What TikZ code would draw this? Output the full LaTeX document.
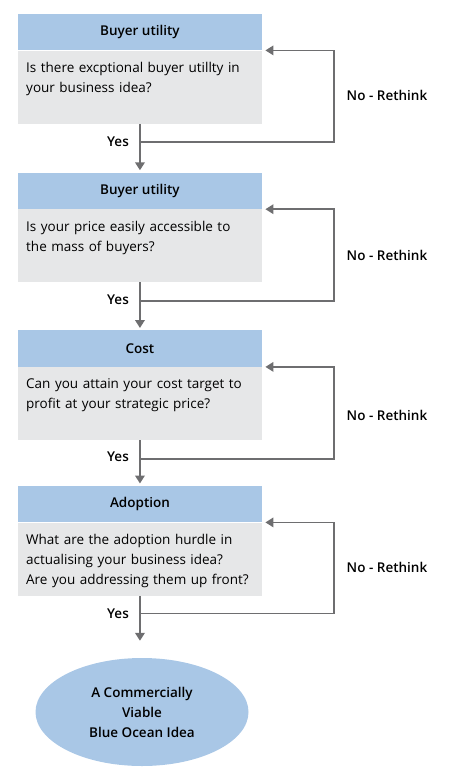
\documentclass[tikz,border=0pt]{standalone}
\usepackage{fontspec}
\IfFontExistsTF{Open Sans SemiBold}
  {\setmainfont{Open Sans}[BoldFont={Open Sans SemiBold}]}
  {\IfFontExistsTF{Open Sans Semibold}
    {\setmainfont{Open Sans}[BoldFont={Open Sans Semibold}]}
    {\setmainfont{Open Sans}}}
\usetikzlibrary{arrows.meta,shapes.geometric}
\definecolor{hdr}{RGB}{169,199,230}
\definecolor{bod}{RGB}{230,231,232}
\definecolor{arr}{RGB}{110,110,112}
\tikzset{
  hdrbox/.style={fill=hdr, minimum width=244.5pt, minimum height=36.5pt, inner sep=0pt, anchor=north west,
    font=\bfseries\fontsize{13.5}{15}\selectfont},
  bodbox/.style={fill=bod, minimum width=244.5pt, inner sep=0pt, anchor=north west},
  bodtext/.style={anchor=north west, inner sep=0pt, text width=240pt, align=left,
    font=\fontsize{13.5}{20}\selectfont},
  lbl/.style={inner sep=0pt, font=\bfseries\fontsize{13.5}{15}\selectfont},
  flow/.style={draw=arr, line width=2pt, -{Triangle[width=9.5pt,length=8pt]}},
  loopflow/.style={draw=arr, line width=1.6pt, -{Triangle[width=9.5pt,length=8pt]}},
  finale/.style={ellipse, fill=hdr, minimum width=213pt, minimum height=108pt, inner sep=0pt, align=center,
    font=\bfseries\fontsize{13.5}{20}\selectfont},
}
\begin{document}
\begin{tikzpicture}[x=1pt,y=-1pt]
\useasboundingbox (0,0) rectangle (451,784);
% box 1
\node[hdrbox] (h1) at (17.5,13.5) {Buyer utility};
\node[bodbox, minimum height=73pt] (b1) at (h1.south west) {};
\node[bodtext] (t1) at (26,62) {Is there excptional buyer utillty in\\your business idea?};
% box 2
\node[hdrbox] (h2) at (17.5,172.3) {Buyer utility};
\node[bodbox, minimum height=72.7pt] (b2) at (h2.south west) {};
\node[bodtext] (t2) at (26,220.7) {Is your price easily accessible to\\the mass of buyers?};
% box 3
\node[hdrbox] (h3) at (17.5,330) {Cost};
\node[bodbox, minimum height=73pt] (b3) at (h3.south west) {};
\node[bodtext] (t3) at (26,378) {Can you attain your cost target to\\profit at your strategic price?};
% box 4
\node[hdrbox] (h4) at (17.5,485.5) {Adoption};
\node[bodbox, minimum height=73pt] (b4) at (h4.south west) {};
\node[bodtext] (t4) at (26,534) {What are the adoption hurdle in\\actualising your business idea?\\Are you addressing them up front?};
% final
\node[finale] (fin) at (142,712) {A Commercially\\Viable\\Blue Ocean Idea};
% junctions
\coordinate (j1) at (b1.south |- 0,142);
\coordinate (j2) at (b2.south |- 0,300.7);
\coordinate (j3) at (b3.south |- 0,458.7);
\coordinate (j4) at (b4.south |- 0,613.5);
% main arrows
\draw[flow, shorten >=2pt] (b1.south) -- (h2.north);
\draw[flow, shorten >=2pt] (b2.south) -- (h3.north);
\draw[flow, shorten >=2pt] (b3.south) -- (h4.north);
\draw[flow, shorten >=17pt] (b4.south) -- (b4.south |- fin.north);
% loops
\draw[loopflow] (j1) -- ++(194,0) |- ([xshift=3pt]b1.north east);
\draw[loopflow] (j2) -- ++(194,0) |- ([xshift=3pt]b2.north east);
\draw[loopflow] (j3) -- ++(194,0) |- ([xshift=3pt]b3.north east);
\draw[loopflow] (j4) -- ++(194,0) |- ([xshift=3pt]b4.north east);
% labels
\node[lbl] (y1) at (118,142) {Yes};
\node[lbl] (y2) at (118,299.5) {Yes};
\node[lbl] (y3) at (118,457) {Yes};
\node[lbl] (y4) at (118,614) {Yes};
\node[lbl] (n1) at (387,95) {No - Rethink};
\node[lbl] (n2) at (387,255.7) {No - Rethink};
\node[lbl] (n3) at (387,415.7) {No - Rethink};
\node[lbl] (n4) at (387,567.7) {No - Rethink};
\end{tikzpicture}
\end{document}
